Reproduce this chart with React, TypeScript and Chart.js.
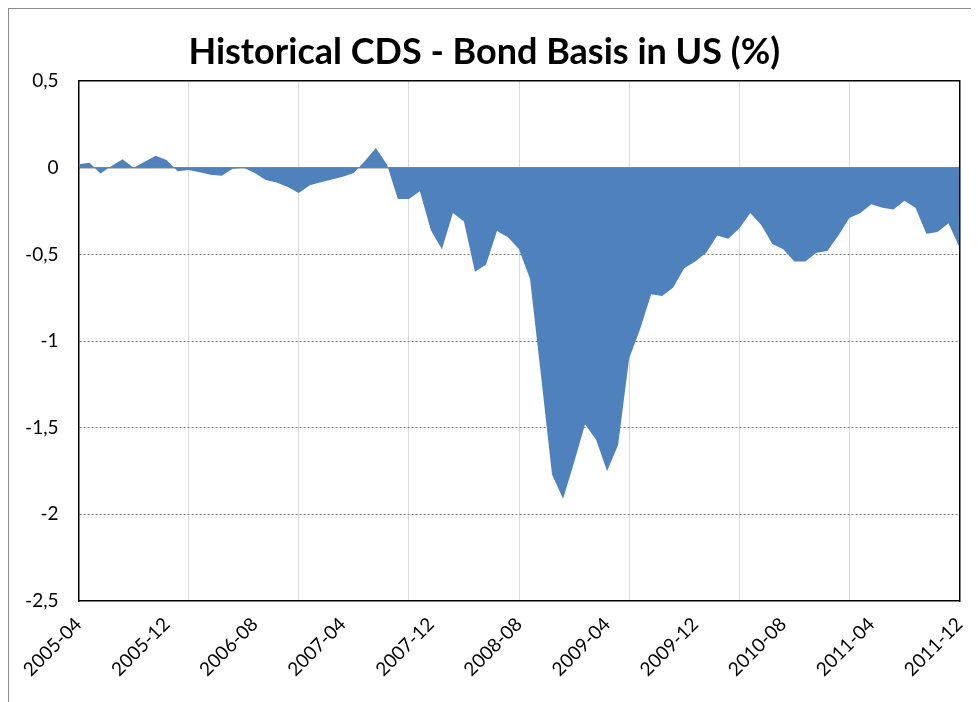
import React, { useEffect, useRef } from 'react';
import { Chart, registerables } from 'chart.js';

Chart.register(...registerables);

const TITLE = 'Historical CDS - Bond Basis in US (%)';

// tick labels every 8 months, from 2005-04 to 2011-12 (81 monthly points)
const tickLabels = [
  '2005-04', '2005-12', '2006-08', '2007-04', '2007-12', '2008-08',
  '2009-04', '2009-12', '2010-08', '2011-04', '2011-12',
];

// CDS - bond basis, monthly, %
const basis2005 = [0.02, 0.03, -0.033, 0.01, 0.05, 0.0, 0.035, 0.07, 0.045]; // 2005-04 .. 2005-12
const basis2006 = [-0.02, -0.012, -0.025, -0.04, -0.045, -0.005, 0.0, -0.03, -0.07, -0.085, -0.11, -0.145];
const basis2007 = [-0.1, -0.083, -0.067, -0.052, -0.03, 0.04, 0.115, 0.02, -0.18, -0.18, -0.135, -0.36];
const basis2008 = [-0.47, -0.26, -0.31, -0.6, -0.56, -0.365, -0.4, -0.47, -0.64, -1.2, -1.77, -1.91];
const basis2009 = [-1.7, -1.48, -1.57, -1.75, -1.6, -1.1, -0.93, -0.73, -0.74, -0.69, -0.58, -0.54];
const basis2010 = [-0.49, -0.39, -0.41, -0.35, -0.26, -0.33, -0.44, -0.47, -0.54, -0.54, -0.49, -0.48];
const basis2011 = [-0.39, -0.29, -0.26, -0.21, -0.23, -0.24, -0.19, -0.23, -0.38, -0.37, -0.32, -0.46];

const basis = [
  ...basis2005, ...basis2006, ...basis2007, ...basis2008,
  ...basis2009, ...basis2010, ...basis2011,
];

const Y_MIN = -2.5;
const Y_MAX = 0.5;
const Y_STEP = 0.5;
const LABEL_STEP = 8; // months between tick labels
const GRID_STEP = 10; // months between vertical grid lines

export default function App() {
  const ref = useRef<HTMLCanvasElement | null>(null);

  useEffect(() => {
    document.documentElement.style.overflow = 'hidden';
    document.body.style.overflow = 'hidden';
    const canvas = ref.current;
    if (!canvas) return;
    Chart.defaults.font.family = 'Lato';
    const lastIndex = basis.length - 1;
    const chart = new Chart(canvas, {
      type: 'line',
      data: {
        datasets: [
          {
            data: basis.map((v, i) => ({ x: i, y: v })),
            xAxisID: 'x',
            yAxisID: 'y',
            fill: 'origin',
            backgroundColor: '#4F81BD',
            borderColor: '#4F81BD',
            borderWidth: 0,
            pointRadius: 0,
            tension: 0,
          },
        ],
      },
      options: {
        responsive: false,
        animation: false,
        devicePixelRatio: 1,
        layout: { padding: { left: 0, right: 19.5, top: 0, bottom: 0 } },
        plugins: {
          legend: { display: false },
          tooltip: { enabled: false },
          title: {
            display: true,
            text: TITLE,
            color: '#000',
            font: { family: 'Lato', size: 36, weight: 'bold' },
            padding: { top: 22, bottom: 7 },
          },
        },
        scales: {
          x: {
            type: 'linear',
            position: 'bottom',
            min: 0,
            max: lastIndex,
            ticks: {
              stepSize: LABEL_STEP,
              autoSkip: false,
              maxRotation: 45,
              minRotation: 45,
              padding: 12,
              color: '#000',
              font: { size: 19 },
              callback: (v: any) => tickLabels[Math.round(Number(v) / LABEL_STEP)] ?? '',
            },
            grid: { display: false, drawTicks: false },
            border: { display: true, color: '#000', width: 1.5 },
            afterFit: (s: any) => {
              s.height = 101;
              s.paddingLeft = 0;
              s.paddingRight = 0;
            },
          },
          xg: {
            type: 'linear',
            axis: 'x',
            position: 'top',
            min: 0,
            max: lastIndex,
            ticks: { display: false, stepSize: GRID_STEP },
            grid: { color: '#d9d9d9', drawTicks: false, lineWidth: 1 },
            border: { display: true, color: '#000', width: 1.5 },
            afterFit: (s: any) => { s.height = 0; s.paddingLeft = 0; s.paddingRight = 0; },
          },
          x0: {
            type: 'linear',
            axis: 'x',
            position: { y: 0 },
            min: 0,
            max: lastIndex,
            ticks: { display: false },
            grid: { display: false, drawTicks: false },
            border: { display: true, color: '#868686', width: 1.5 },
            z: 1,
          },
          y: {
            type: 'linear',
            position: 'left',
            min: Y_MIN,
            max: Y_MAX,
            ticks: {
              stepSize: Y_STEP,
              padding: 20,
              color: '#000',
              font: { size: 19 },
              callback: (v: any) => String(v).replace('.', ','),
            },
            grid: {
              drawTicks: false,
              lineWidth: 1,
              color: (c: any) => {
                const v = c.tick ? c.tick.value : 0;
                if (Math.abs(v) < 1e-9 || v > Y_MAX - 0.01 || v < Y_MIN + 0.01) return 'rgba(0,0,0,0)';
                return '#7f7f7f';
              },
            },
            border: { display: true, color: '#000', width: 1.5, dash: [2, 2] },
            afterFit: (s: any) => { s.width = 69.5; },
          },
          y2: {
            type: 'linear',
            axis: 'y',
            position: 'right',
            min: Y_MIN,
            max: Y_MAX,
            ticks: { display: false },
            grid: { display: false, drawTicks: false },
            border: { display: true, color: '#000', width: 1.5 },
            afterFit: (s: any) => { s.width = 0; },
          },
        },
      } as any,
    });
    return () => chart.destroy();
  }, []);

  return (
    <div
      style={{
        width: 971,
        height: 694,
        boxSizing: 'border-box',
        borderTop: '1px solid #8c8c8c',
        borderLeft: '1px solid #8c8c8c',
        background: '#fff',
      }}
    >
      <canvas ref={ref} width={970} height={693} style={{ display: 'block' }} />
    </div>
  );
}
